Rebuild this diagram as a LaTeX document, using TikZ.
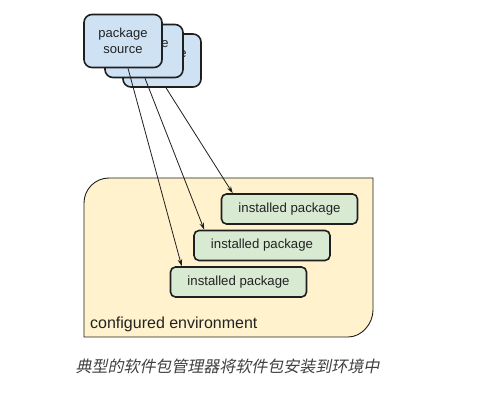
\documentclass[tikz,border=0pt]{standalone}
\usepackage{fontspec}
\setmainfont{Liberation Sans}
\newfontfamily\cjk[FakeSlant=0.2]{Noto Sans CJK SC}
\usetikzlibrary{arrows.meta}
\definecolor{srcfill}{HTML}{CFE2F3}
\definecolor{instfill}{HTML}{D9EAD3}
\definecolor{envfill}{HTML}{FFF2CC}
\definecolor{edge}{HTML}{1F1F1F}
\definecolor{txt}{HTML}{222222}
\tikzset{
  srcbox/.style={draw=edge, line width=1.6pt, fill=srcfill, rounded corners=8pt,
    minimum width=78pt, minimum height=53pt, inner sep=0pt, align=center,
    font=\fontsize{13}{15.5}\selectfont, text=txt},
  instbox/.style={draw=edge, line width=1.6pt, fill=instfill, rounded corners=5pt,
    minimum width=136pt, minimum height=30pt, inner sep=0pt,
    font=\fontsize{13.2}{15}\selectfont, text=txt},
  flow/.style={draw=edge, line width=0.8pt, -{Stealth[length=7pt,width=4.5pt]}},
}
\begin{document}
\begin{tikzpicture}[x=1pt,y=-1pt]
\useasboundingbox[fill=white] (0,0) rectangle (488,409);
% environment
\draw[draw=edge, line width=0.9pt, fill=envfill]
  (84,337) -- (84,203) .. controls (84,189.2) and (95.2,178) .. (109,178)
  -- (373,178) -- (373,310) .. controls (373,323.8) and (361.8,337) .. (348,337) -- cycle;
\node[anchor=base west, font=\fontsize{16}{19}\selectfont, text=txt, inner sep=0pt] (envlabel) at (90,328) {configured environment};
% installed packages
\node[instbox] (i1) at (289.5,209) {installed package};
\node[instbox] (i2) at (262,245.5) {installed package};
\node[instbox] (i3) at (238.5,282) {installed package};
% sources
\node[srcbox] (s3) at (162,60.5) {package\\source};
\node[srcbox] (s2) at (144,51) {package\\source};
\node[srcbox] (s1) at (123,41) {package\\source};
% arrows
\draw[flow] ([xshift=5pt]s1.south) -- ([xshift=12pt]i3.north west);
\draw[flow] ([xshift=1pt]s2.south) -- ([xshift=11pt]i2.north west);
\draw[flow] ([xshift=4pt]s3.south) -- ([xshift=12pt]i1.north west);
% caption
\node[font=\cjk\fontsize{16}{19}\selectfont, text=black!75] (cap) at (227.5,366) {典型的软件包管理器将软件包安装到环境中};
\end{tikzpicture}
\end{document}
